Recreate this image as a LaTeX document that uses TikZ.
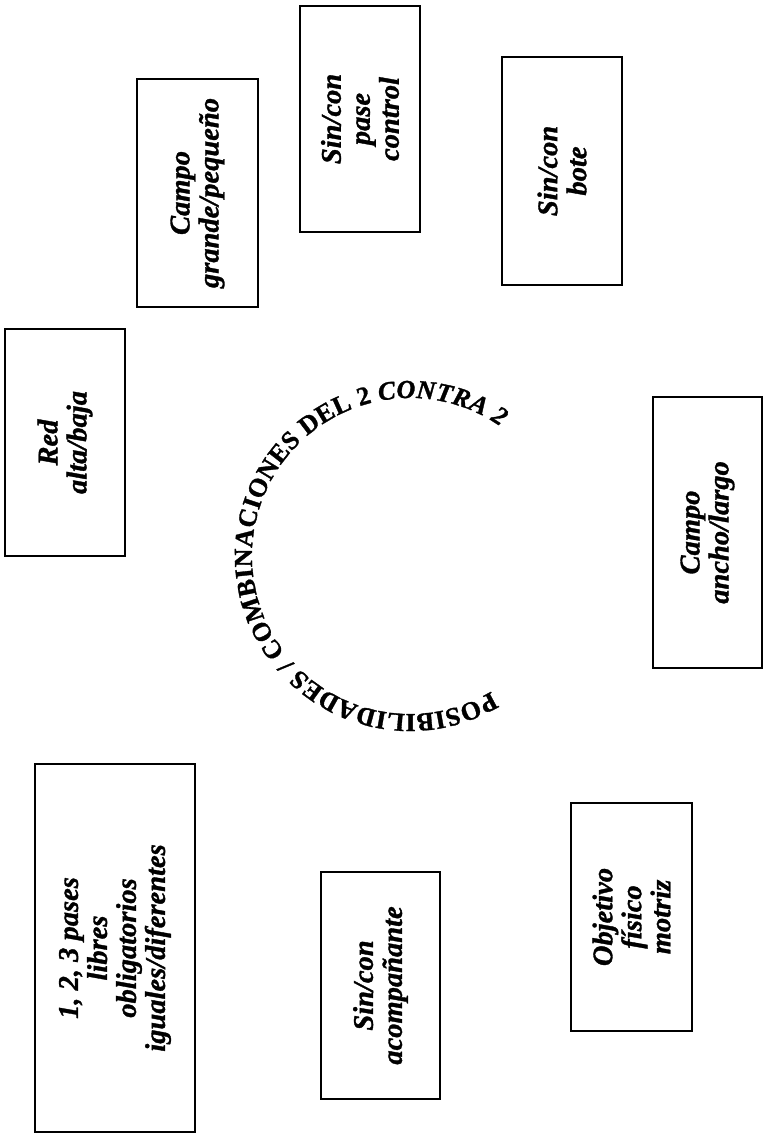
\documentclass[tikz,border=0pt]{standalone}
\usepackage{fontspec}
\setmainfont{Liberation Serif}
\newfontfamily\heavyserif[FakeBold=1.2]{Liberation Serif}
\usetikzlibrary{decorations.text}

\tikzset{
  optbox/.style={draw, line width=1.3pt, rotate=90, inner sep=0pt,
    align=center, font=\heavyserif\bfseries\itshape\fontsize{28.5}{29}\selectfont},
}

\begin{document}
\begin{tikzpicture}[x=1pt, y=1pt]
  \useasboundingbox (0,0) rectangle (764,1136);

  % option boxes (text reads bottom to top)
  \node[optbox, minimum width=228, minimum height=121] (grande) at (197.5,943) {Campo\\grande/pequeño};
  \node[optbox, minimum width=226, minimum height=120] (pase)   at (360,1017) {Sin/con\\pase\\control};
  \node[optbox, minimum width=228, minimum height=120] (bote)   at (562,965)  {Sin/con\\bote};
  \node[optbox, minimum width=227, minimum height=120] (red)    at (65,693.5) {Red\\alta/baja};
  \node[optbox, minimum width=271, minimum height=109] (ancho)  at (707.5,603.5) {Campo\\ancho/largo};
  \node[optbox, minimum width=368, minimum height=160] (pases)  at (115,188) {1, 2, 3 pases\\libres\\obligatorios\\iguales/diferentes};
  \node[optbox, minimum width=227, minimum height=119] (acomp)  at (380.5,150.5) {Sin/con\\acompañante};
  \node[optbox, minimum width=228, minimum height=121] (obj)    at (631.5,219) {Objetivo\\físico\\motriz};

  % title set on a clockwise arc around the centre
  \coordinate (c) at (410,580);
  \path[decorate, decoration={text along path, text align={fit to path},
      text={|\heavyserif\fontsize{26}{26}\selectfont\bfseries|POSIBILIDADES / COMBINACIONES DEL 2 |\heavyserif\fontsize{26}{26}\selectfont\bfseries\itshape|CONTRA 2}}]
    (c) ++(-59:158) arc[start angle=-59, end angle=-305, radius=158];
\end{tikzpicture}
\end{document}
